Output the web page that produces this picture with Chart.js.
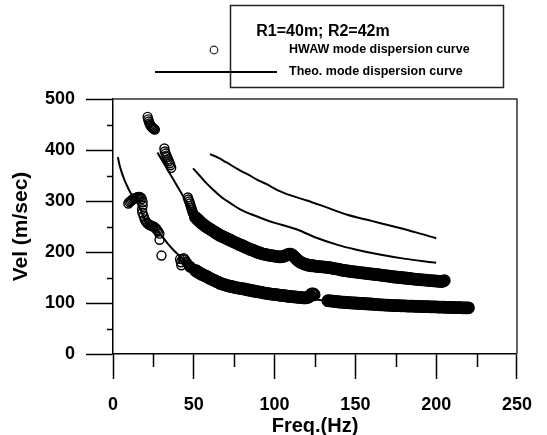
<!DOCTYPE html>
<html>
<head>
<meta charset="utf-8">
<script src="https://cdn.jsdelivr.net/npm/chart.js@4.4.1/dist/chart.umd.min.js"></script>
<style>
  html, body { margin: 0; padding: 0; background: #fff; }
  #chart { display: block; }
</style>
</head>
<body>
<canvas id="chart" width="547" height="435"></canvas>
<script>
// axis ticks
const xTicks = [0, 50, 100, 150, 200, 250];
const yTicks = [0, 100, 200, 300, 400, 500];
const xMinor = [25, 75, 125, 175, 225];
const yMinor = [50, 150, 250, 350, 450];

// HWAW picks, [freq Hz, vel m/s]
const hwawLowStart = [
  [9.5,295],[10.2,298],[11,300],[11.8,302],[12.5,304],[13.3,305],[14,306],[14.8,307],[15.6,308],[16.4,308],
  [17.2,307],[17.8,304],[18.3,298],[18.4,291],[18,284],[18.2,277],[19,270],[19.6,264],[20.3,260],[21,257],
  [21.8,255],[22.6,253],[23.4,252],[24.2,251],[25,250],[25.8,248],[26.6,246],[27.3,243],[28,240],[28.7,236],
  [28.8,224],[30,193]
];
const hwawTopCluster = [
  [21.4,465],[21.8,460],[22.2,456],[22.6,452],[23,449],[23.5,447],[24,445],[24.5,443],[25,442],[25.5,441],[25.9,440]
];
const hwawMidStart = [
  [31.8,403],[32.1,397],[32.6,393],[33,389],[33.5,386],[34,382],[34.5,378],[35,374],[35.5,370],[36,365],
  [46.3,307],[46.7,303],[47.2,299],[47.6,295],[48,291],[48.4,287],[48.8,283],[49.2,279],[49.6,276],[50,273],[50.4,270]
];
const hwawLowCluster = [
  [41.5,186],[42,180],[42.3,174],[43,186],[43.8,188],[44.5,185],[45.3,181],[46,178],[46.8,174],[47.4,170],
  [48,172],[48.6,169],[49.3,167],[50,166]
];
const hwawLowBand = [
  [51,164],[52,162],[53,160],[54,158],[55,156],[56,155],[57,153],[58,152],[59,150],[60,148],
  [61,147],[62,145],[63,144],[64,142],[65,141],[66,139],[67,138],[68,137],[69,136],[70,135],
  [71,134],[72,133],[73,132.5],[74,132],[75,131],[76,130],[77,129.5],[78,129],[79,128.5],[80,128],
  [81,127.5],[82,127],[83,126],[84,125.5],[85,125],[86,124],[87,123.5],[88,123],[89,122.5],[90,122],
  [91,121.5],[92,121],[93,120],[94,119.5],[95,119],[96,118.5],[97,118],[98,117.5],[99,117],[100,117],
  [101,116.5],[102,116],[103,115.5],[104,115],[105,115],[106,114.5],[107,114],[108,113.5],[109,113],[110,113],
  [111,112.5],[112,112],[113,112],[114,111.5],[115,111],[116,111],[117,110.5],[118,110],[119,110],[120,110.5],
  [121,112],[122,114],[123,118],[124,118],[124.5,116]
];
const hwawLowTail = [
  [133,104.5],[134,104],[135,104],[136,103.5],[137,103],[138,103],[139,102.5],[140,102],[141,102],[142,101.5],
  [143,101.5],[144,101],[145,101],[146,100.5],[147,100.5],[148,100],[149,100],[150,100],[151,99.5],[152,99.5],
  [153,99],[154,99],[155,99],[156,98.5],[157,98.5],[158,98],[159,98],[160,98],[161,97.5],[162,97.5],
  [163,97],[164,97],[165,96.5],[166,96.5],[167,96.5],[168,96],[169,96],[170,96],[171,95.5],[172,95.5],
  [173,95.5],[174,95],[175,95],[176,95],[177,95],[178,94.5],[179,94.5],[180,94.5],[181,94.5],[182,94],
  [183,94],[184,94],[185,94],[186,94],[187,93.5],[188,93.5],[189,93.5],[190,93.5],[191,93],[192,93],
  [193,93],[194,93],[195,93],[196,92.5],[197,92.5],[198,92.5],[199,92.5],[200,92.5],[201,92],[202,92],
  [203,92],[204,92],[205,92],[206,91.5],[207,91.5],[208,91.5],[209,91.5],[210,91.5],[211,91],[212,91],
  [213,91],[214,91],[215,91],[216,90.5],[217,90.5],[218,90.5],[219,90.5],[220,90.5]
];
const hwawMidBand = [
  [51,268],[52,265],[53,262],[54,259],[55,256],[56,254],[57,251],[58,249],[59,247],[60,245],
  [61,243],[62,241],[63,239],[64,237],[65,235],[66,233],[67,231.5],[68,230],[69,228.5],[70,227],
  [71,225.5],[72,224],[73,222.5],[74,221],[75,219.5],[76,218],[77,216.5],[78,215],[79,214],[80,212.5],
  [81,211],[82,209.5],[83,208],[84,206.5],[85,205],[86,204],[87,203],[88,201.5],[89,200],[90,199],
  [91,198],[92,197],[93,196],[94,195.5],[95,195],[96,194],[97,193.5],[98,193],[99,192.5],[100,192],
  [101,191.5],[102,191],[103,190.5],[104,190.5],[105,191],[106,192],[107,193.5],[108,195],[109,196],[110,196],
  [111,194],[112,191],[113,188],[114,185],[115,182],[116,180],[117,178.5],[118,177],[119,176],[120,175],
  [121,174],[122,173.5],[123,173],[124,173],[125,172.5],[126,172],[127,171.5],[128,171.5],[129,171],[130,171],
  [131,170.5],[132,170],[133,170],[134,169.5],[135,169],[136,168],[137,167.5],[138,167],[139,166.5],[140,166],
  [141,165],[142,164.5],[143,164],[144,163.5],[145,163],[146,162.5],[147,162],[148,161.5],[149,161],[150,161],
  [151,160.5],[152,160],[153,159.5],[154,159],[155,159],[156,158.5],[157,158],[158,157.5],[159,157],[160,157],
  [161,156.5],[162,156],[163,156],[164,155.5],[165,155],[166,154.5],[167,154],[168,153.5],[169,153],[170,153],
  [171,152.5],[172,152],[173,151.5],[174,151],[175,151],[176,150.5],[177,150],[178,150],[179,149.5],[180,149],
  [181,149],[182,148.5],[183,148],[184,148],[185,147.5],[186,147],[187,147],[188,146.5],[189,146],[190,146],
  [191,145.5],[192,145.5],[193,145],[194,145],[195,144.5],[196,144],[197,144],[198,143.5],[199,143.5],[200,143],
  [201,143],[202,142.5],[203,142],[204,142.5],[205,144]
];

// theoretical mode curves
const theoMode0 = [
  [3,386],[4,371],[5.3,357],[7,342],[8.5,331],[10.5,318],[13,306],[15,297],[17,284],[19,268],
  [21,257],[24,250],[28,240],[30,232],[34,216],[38,202],[42,190],[46,178],[50,166],[53,160],
  [58,152],[64,142],[70,135],[80,128],[90,122],[100,117],[110,113],[120,110],[130,105],[140,102],
  [150,100],[165,96.5],[180,94.5],[200,92.5],[220,90.5]
];
const theoMode1 = [
  [27.5,395],[32,371],[37,344],[42,317],[47,290],[50,272],[52,262],[55,255],[58,249],[63,239],
  [68,230],[74,221],[80,212.5],[86,204],[92,197],[100,192],[110,189],[120,176],[133,170],[145,163],
  [163,156],[175,151],[190,146],[205,142]
];
const theoMode2 = [
  [49.5,364],[53,352],[56,341],[62,322],[67,308],[73,295],[79,283],[88,271],[99,258],[108,250],
  [114,244],[125,229],[139,214],[150,205],[165,195],[180,187],[200,179]
];
const theoMode3 = [
  [60,392],[65,385],[70,376],[78,361],[84,351],[89,342],[95,333],[102,321],[110,311],[120,301],
  [130,290],[145,273],[160,261],[175,249],[188,238],[200,227]
];

const toXY = arr => arr.map(p => ({ x: p[0], y: p[1] }));
const hwawSparse = [].concat(hwawLowStart, hwawTopCluster, hwawMidStart, hwawLowCluster);
const hwawDense = [].concat(hwawLowBand, hwawLowTail, hwawMidBand);

const FONT = 'Liberation Sans, Arial, Helvetica, sans-serif';

function hwawSet(arr, r, bw) {
  return {
    data: toXY(arr),
    pointStyle: 'circle',
    pointRadius: r,
    pointBorderWidth: bw,
    pointBorderColor: '#000',
    pointBackgroundColor: 'rgba(0,0,0,0)',
    showLine: false
  };
}

function theoLine(arr) {
  return {
    data: toXY(arr),
    showLine: true,
    borderColor: '#000',
    borderWidth: 2,
    pointRadius: 0,
    cubicInterpolationMode: 'monotone',
    fill: false
  };
}

// frame, minor ticks and the legend box
const decorPlugin = {
  id: 'decor',
  beforeDatasetsDraw(chart) {
    const { ctx, chartArea: a, scales } = chart;
    ctx.save();
    ctx.strokeStyle = '#333';
    ctx.lineWidth = 1.5;
    ctx.beginPath();
    ctx.moveTo(a.left, a.top);
    ctx.lineTo(a.right, a.top);
    ctx.lineTo(a.right, a.bottom);
    ctx.stroke();

    ctx.strokeStyle = '#000';
    ctx.beginPath();
    xMinor.forEach(v => {
      const px = Math.round(scales.x.getPixelForValue(v)) + 0.5;
      ctx.moveTo(px, a.bottom);
      ctx.lineTo(px, a.bottom + 13);
    });
    yMinor.forEach(v => {
      const py = Math.round(scales.y.getPixelForValue(v)) + 0.5;
      ctx.moveTo(a.left, py);
      ctx.lineTo(a.left - 6, py);
    });
    ctx.stroke();
    ctx.restore();
  },
  afterDraw(chart) {
    const ctx = chart.ctx;
    ctx.save();
    ctx.strokeStyle = '#222';
    ctx.lineWidth = 1.5;
    ctx.strokeRect(230.5, 5.5, 273, 82);

    ctx.fillStyle = '#000';
    ctx.textBaseline = 'middle';
    ctx.textAlign = 'center';
    ctx.font = 'bold 16px ' + FONT;
    ctx.fillText('R1=40m; R2=42m', 323, 32);

    ctx.textAlign = 'left';
    ctx.font = 'bold 12.5px ' + FONT;
    ctx.fillText('HWAW mode dispersion curve', 289, 50);
    ctx.fillText('Theo. mode dispersion curve', 289, 72);

    ctx.lineWidth = 1.2;
    ctx.beginPath();
    ctx.arc(214, 50, 3.8, 0, Math.PI * 2);
    ctx.stroke();

    ctx.lineWidth = 2;
    ctx.strokeStyle = '#000';
    ctx.beginPath();
    ctx.moveTo(155, 72);
    ctx.lineTo(277, 72);
    ctx.stroke();
    ctx.restore();
  }
};

new Chart(document.getElementById('chart'), {
  type: 'scatter',
  data: {
    datasets: [
      hwawSet(hwawSparse, 4.5, 1.4),
      hwawSet(hwawDense, 5.3, 2.2),
      theoLine(theoMode0),
      theoLine(theoMode1),
      theoLine(theoMode2),
      theoLine(theoMode3)
    ]
  },
  options: {
    responsive: false,
    animation: false,
    events: [],
    layout: { padding: { top: 99, right: 25, left: 0, bottom: 0 } },
    plugins: { legend: { display: false }, tooltip: { enabled: false } },
    scales: {
      x: {
        type: 'linear',
        min: 0,
        max: 250,
        afterBuildTicks: s => { s.ticks = xTicks.map(v => ({ value: v })); },
        afterFit: s => { s.height = 81; },
        grid: { drawOnChartArea: false, tickLength: 25, tickColor: '#000', tickWidth: 1.5 },
        border: { display: true, color: '#000', width: 1.5 },
        ticks: { color: '#000', padding: 15, maxRotation: 0, font: { family: FONT, size: 18, weight: 'bold' } },
        title: {
          display: true,
          text: 'Freq.(Hz)',
          color: '#000',
          padding: { top: 0, bottom: -3 },
          font: { family: FONT, size: 20, weight: 'bold' }
        }
      },
      y: {
        type: 'linear',
        min: 0,
        max: 500,
        afterBuildTicks: s => { s.ticks = yTicks.map(v => ({ value: v })); },
        afterFit: s => { s.width = 113; },
        grid: { drawOnChartArea: false, tickLength: 27, tickColor: '#000', tickWidth: 1.5 },
        border: { display: true, color: '#000', width: 1.5 },
        ticks: { color: '#000', padding: 11, font: { family: FONT, size: 18, weight: 'bold' } },
        title: {
          display: true,
          text: 'Vel (m/sec)',
          color: '#000',
          padding: { top: 9, bottom: 0 },
          font: { family: FONT, size: 21, weight: 'bold' }
        }
      }
    }
  },
  plugins: [decorPlugin]
});
</script>
</body>
</html>
